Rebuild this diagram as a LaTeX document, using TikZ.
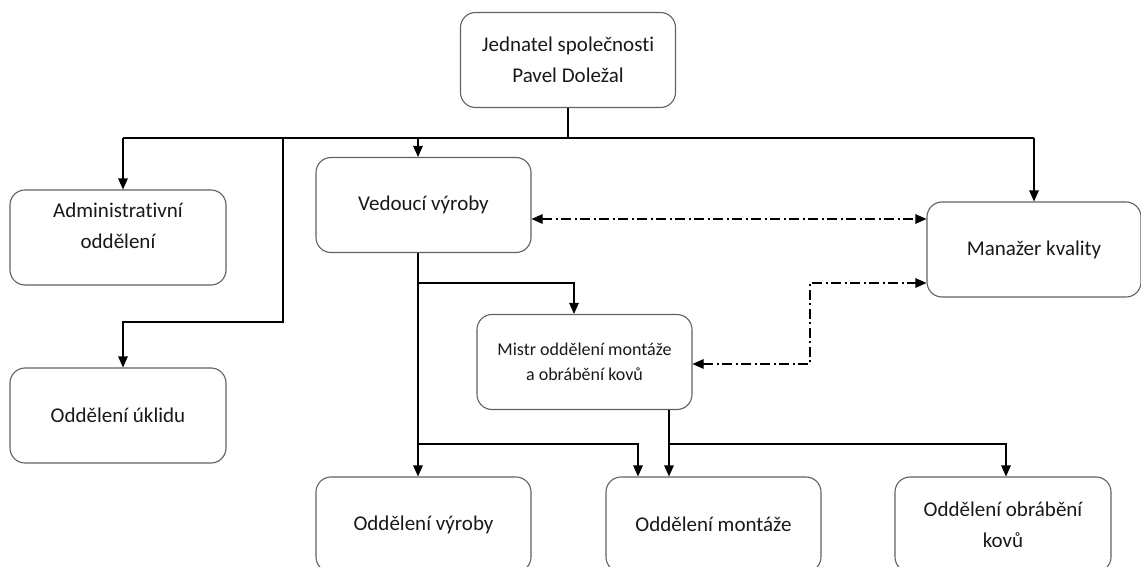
\documentclass[tikz,border=0pt]{standalone}
\usepackage{fontspec}
\setmainfont{Carlito}[Ligatures=NoCommon]
\usetikzlibrary{arrows.meta}
\tikzset{
  box/.style={draw=black!62, line width=1.1pt, rounded corners=15pt, fill=white,
    minimum width=215pt, minimum height=95pt, inner sep=0pt, align=center,
    text=black!90, font=\fontsize{21}{31}\selectfont},
  smallbox/.style={box, font=\fontsize{18}{25}\selectfont},
  conn/.style={line width=1.2pt, black},
  arr/.style={conn, -{Triangle[length=11pt,width=9.5pt]}},
  dd/.style={line width=1.1pt, black, dash pattern=on 10pt off 3.5pt on 2pt off 3.5pt,
    {Triangle[length=11pt,width=9.5pt]}-{Triangle[length=11pt,width=9.5pt]}}
}
\begin{document}
\begin{tikzpicture}[x=1pt,y=-1pt]
\useasboundingbox (0,0) rectangle (1141,567);
\clip (0,0) rectangle (1141,567);
\fill[white] (0,0) rectangle (1141,567);

% boxes
\node[box] (top) at (568,60) {Jednatel společnosti\\Pavel Doležal};
\node[box, minimum width=216pt] (admin) at (118,237.5) {};
\node[font=\fontsize{21}{31}\selectfont, text=black!90, align=center] (admintext) at (118,226) {Administrativní\\oddělení};
\node[box, minimum width=216pt] (uklid) at (118,415.5) {Oddělení úklidu};
\node[box] (ved) at (423.5,205) {Vedoucí výroby};
\node[box, minimum width=214pt] (man) at (1034,249.5) {Manažer kvality};
\node[smallbox] (mistr) at (584.5,362) {Mistr oddělení montáže\\a obrábění kovů};
\node[box] (vyr) at (423.5,524.5) {Oddělení výroby};
\node[box] (mont) at (713.5,524.5) {Oddělení montáže};
\node[box, minimum width=216pt] (obr) at (1003,524.5) {Oddělení obrábění\\kovů};

% company head to the first level
\draw[conn] (top.south) -- ++(0,30) coordinate (bus);
\draw[conn] ([xshift=5pt]admin.north |- bus) -- (man.north |- bus);
\draw[arr] ([xshift=5pt]admin.north |- bus) -- ([xshift=5pt]admin.north);
\draw[arr] ([xshift=-5.5pt]ved.north |- bus) -- ([xshift=-5.5pt]ved.north);
\draw[arr] (man.north |- bus) -- (man.north);
\coordinate (j1) at (283,137);
\draw[arr] (j1) -- (283,322) -| ([xshift=5pt]uklid.north);

% production branch
\draw[arr] ([xshift=-5.5pt]ved.south) -- ([xshift=-5.5pt]vyr.north);
\draw[arr] ([xshift=-5.5pt]ved.south |- 0,283) -| ([xshift=-10.5pt]mistr.north);
\draw[arr] ([xshift=-5.5pt]ved.south |- 0,444) -| ([xshift=-75.5pt]mont.north);
\draw[arr] ([xshift=84.5pt]mistr.south) -- ([xshift=-44.5pt]mont.north);
\draw[arr] ([xshift=84.5pt]mistr.south |- 0,444) -| ([xshift=3pt]obr.north);

% quality links
\draw[dd] (ved.east |- 0,219) -- (man.west |- 0,219);
\draw[dd] (mistr.east |- 0,364) -| (810,283) -- (man.west |- 0,283);
\end{tikzpicture}
\end{document}
